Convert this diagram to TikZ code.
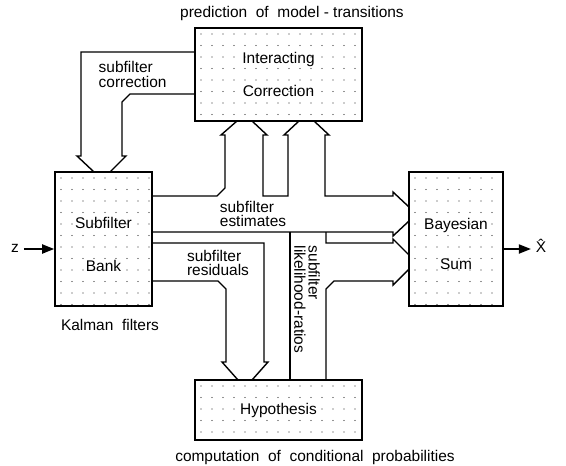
\documentclass[tikz,border=0pt]{standalone}
\usepackage{fontspec}
\setmainfont{Liberation Sans}
\usetikzlibrary{arrows.meta}
\tikzset{
  dotgrid/.style      = {path picture={
                           \foreach \i in {0,...,20}{\foreach \j in {0,...,14}{
                             \fill[black!85] ([shift={(6+\i*11,6+\j*11.5)}]path picture bounding box.north west)
                               circle (0.45pt);}}}},
  block/.style        = {rectangle, draw, line width=1.2pt, align=center, inner sep=2pt, dotgrid},
  pipe/.style         = {line width=1pt, line join=miter},
  sig/.style          = {-{Triangle[length=3mm, width=2.3mm]}, line width=1pt},
  pipelab/.style      = {font=\fontsize{11}{10}\selectfont, align=left, inner sep=1pt},
}

\begin{document}
\begin{tikzpicture}[x=0.025cm, y=-0.025cm, font=\fontsize{11}{13}\selectfont]
  \useasboundingbox (0,0) rectangle (566,466);

  % the four blocks
  \node[block, minimum width=4.175cm, minimum height=2.325cm] (ic) at (278.5,74.5)
    {Interacting\\[10pt]Correction};
  \node[block, minimum width=2.425cm, minimum height=3.35cm] (sb) at (103.5,239)
    {\rule{0pt}{16pt}Subfilter\\[18pt]Bank};
  \node[block, minimum width=2.35cm, minimum height=3.35cm] (bs) at (456,239)
    {\rule{0pt}{15pt}Bayesian\\[16pt]Sum};
  \node[block, minimum width=4.175cm, minimum height=1.5cm] (hy) at (278.5,410)
    {Hypothesis};

  % captions
  \node (pred) at (292,14) {prediction\ \ of\ \ model - transitions};
  \node (comp) at (315,457) {computation\ \ of\ \ conditional\ \ probabilities};
  \node (kal) at (110,325) {Kalman\ \ filters};

  % input and output
  \node[anchor=mid] (z) at (15,249) {z};
  \node[anchor=mid] (xhat) at (541,249) {\^{X}};
  \draw[sig] (z.mid east) -- (z.mid east -| sb.west);
  \draw[sig] (bs.east |- xhat.mid) -- (xhat.mid west);

  % subfilter correction: Interacting Correction -> Subfilter Bank
  \draw[pipe] (195,52) -- (81,52) -- (81,156) -- (77,156) -- (94,172);
  \draw[pipe] (195,94) -- (130,94) -- (122,102) -- (122,156) -- (126,156) -- (110,172);
  \node[pipelab, anchor=west] (corr) at (97,74.5) {subfilter\\correction};

  % subfilter estimates: up into Interacting Correction, right into Bayesian Sum
  \draw[pipe] (152,196) -- (217,196) -- (225,188) -- (225,135) -- (221,135) -- (237,121);
  \draw[pipe] (252,121) -- (267,135) -- (263,135) -- (263,196) -- (288,196) -- (288,135)
    -- (284,135) -- (299,121);
  \draw[pipe] (314,121) -- (329,135) -- (325,135) -- (325,196) -- (393,196) -- (393,192)
    -- (409,207);
  \draw[pipe] (152,232) -- (393,232) -- (393,236) -- (409,221);
  \node[pipelab] (est) at (253,214) {subfilter\\estimates};

  % subfilter residuals: Subfilter Bank -> Hypothesis
  \draw[pipe] (152,243) -- (264,243) -- (264,362) -- (268,362) -- (252,380);
  \draw[pipe] (152,281) -- (218,281) -- (226,289) -- (226,362) -- (222,362) -- (238,380);
  \node[pipelab] (res) at (218,263) {subfilter\\residuals};

  % likelihood-ratios: Hypothesis -> Bayesian Sum
  \draw[pipe] (290,232) -- (290,380);
  \draw[pipe] (326,232) -- (326,243) -- (393,243) -- (393,239) -- (409,255);
  \draw[pipe] (409,269) -- (393,285) -- (393,281) -- (334,281) -- (326,289) -- (326,380);
  \node[pipelab, rotate=-90, anchor=west] (lik) at (307,244) {subfilter\\likelihood-ratios};
\end{tikzpicture}
\end{document}
